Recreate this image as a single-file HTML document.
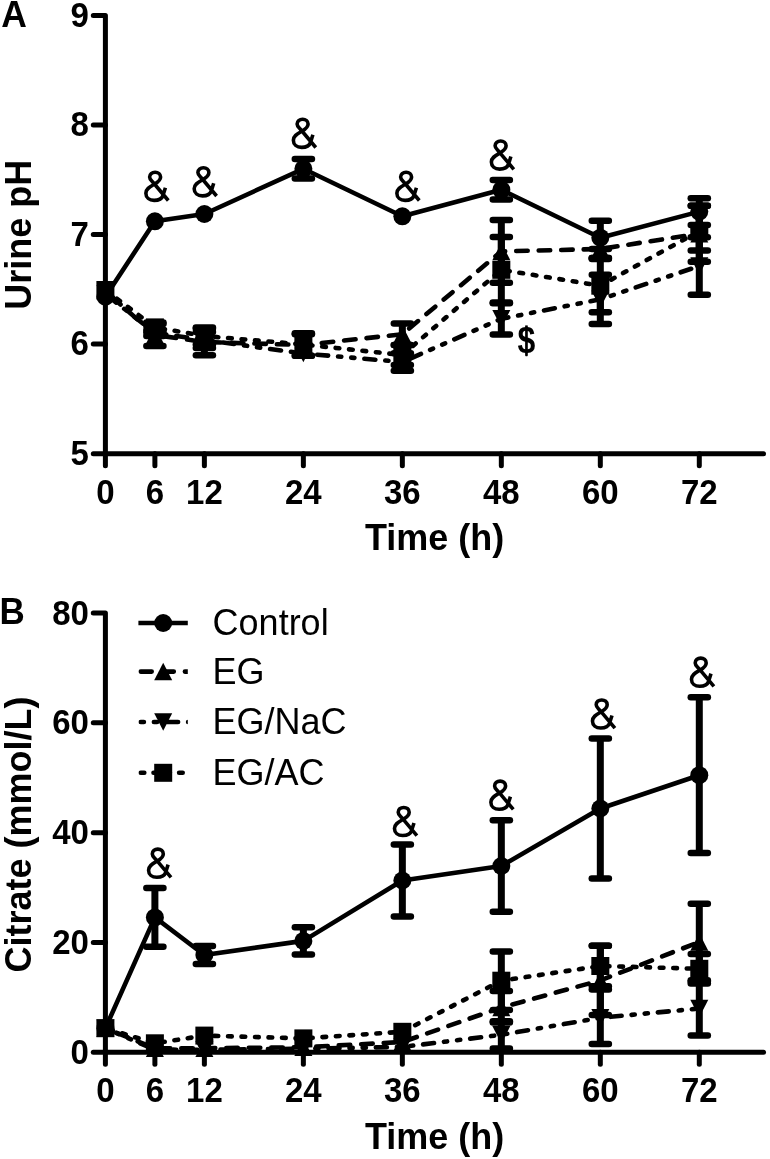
<!DOCTYPE html>
<html><head><meta charset="utf-8"><title>Figure</title>
<style>html,body{margin:0;padding:0;background:#fff;}body{width:770px;height:1159px;overflow:hidden;font-family:"Liberation Sans",sans-serif;}svg{display:block;will-change:transform;}text{font-family:"Liberation Sans",sans-serif;fill:#000;}</style>
</head><body>
<svg width="770" height="1159" viewBox="0 0 770 1159">
<rect width="770" height="1159" fill="#fff"/>
<g id="panelA">
<path d="M93.30,15.40 L105.40,15.40 L105.40,465.70" fill="none" stroke="#000" stroke-width="5.0" stroke-linecap="round" stroke-linejoin="round"/>
<path d="M93.30,453.70 L763.5,453.70" fill="none" stroke="#000" stroke-width="5.0" stroke-linecap="round"/>
<path d="M93.30,124.90 L105.40,124.90" fill="none" stroke="#000" stroke-width="5.0" stroke-linecap="round"/>
<path d="M93.30,234.40 L105.40,234.40" fill="none" stroke="#000" stroke-width="5.0" stroke-linecap="round"/>
<path d="M93.30,344.00 L105.40,344.00" fill="none" stroke="#000" stroke-width="5.0" stroke-linecap="round"/>
<path d="M154.89,453.70 L154.89,465.70" fill="none" stroke="#000" stroke-width="5.0" stroke-linecap="round"/>
<path d="M204.38,453.70 L204.38,465.70" fill="none" stroke="#000" stroke-width="5.0" stroke-linecap="round"/>
<path d="M303.37,453.70 L303.37,465.70" fill="none" stroke="#000" stroke-width="5.0" stroke-linecap="round"/>
<path d="M402.35,453.70 L402.35,465.70" fill="none" stroke="#000" stroke-width="5.0" stroke-linecap="round"/>
<path d="M501.33,453.70 L501.33,465.70" fill="none" stroke="#000" stroke-width="5.0" stroke-linecap="round"/>
<path d="M600.32,453.70 L600.32,465.70" fill="none" stroke="#000" stroke-width="5.0" stroke-linecap="round"/>
<path d="M699.30,453.70 L699.30,465.70" fill="none" stroke="#000" stroke-width="5.0" stroke-linecap="round"/>
<text transform="translate(88.90,26.70) scale(1,1.07)" font-size="33" font-weight="bold" text-anchor="end">9</text>
<text transform="translate(88.90,136.20) scale(1,1.07)" font-size="33" font-weight="bold" text-anchor="end">8</text>
<text transform="translate(88.90,245.70) scale(1,1.07)" font-size="33" font-weight="bold" text-anchor="end">7</text>
<text transform="translate(88.90,355.30) scale(1,1.07)" font-size="33" font-weight="bold" text-anchor="end">6</text>
<text transform="translate(88.90,465.00) scale(1,1.07)" font-size="33" font-weight="bold" text-anchor="end">5</text>
<text transform="translate(105.40,503.50) scale(1,1.07)" font-size="33" font-weight="bold" text-anchor="middle">0</text>
<text transform="translate(154.89,503.50) scale(1,1.07)" font-size="33" font-weight="bold" text-anchor="middle">6</text>
<text transform="translate(204.38,503.50) scale(1,1.07)" font-size="33" font-weight="bold" text-anchor="middle">12</text>
<text transform="translate(303.37,503.50) scale(1,1.07)" font-size="33" font-weight="bold" text-anchor="middle">24</text>
<text transform="translate(402.35,503.50) scale(1,1.07)" font-size="33" font-weight="bold" text-anchor="middle">36</text>
<text transform="translate(501.33,503.50) scale(1,1.07)" font-size="33" font-weight="bold" text-anchor="middle">48</text>
<text transform="translate(600.32,503.50) scale(1,1.07)" font-size="33" font-weight="bold" text-anchor="middle">60</text>
<text transform="translate(699.30,503.50) scale(1,1.07)" font-size="33" font-weight="bold" text-anchor="middle">72</text>
<text transform="translate(1.20,27.00) scale(1,1.03)" font-size="35.5" font-weight="bold" text-anchor="start">A</text>
<text transform="translate(31.00,234.70) rotate(-90) scale(1,1.04)" font-size="36" font-weight="bold" text-anchor="middle">Urine pH</text>
<text transform="translate(434.60,550.10) scale(1,1.04)" font-size="36" font-weight="bold" text-anchor="middle">Time (h)</text>
<path d="M105.40,296.70 L154.89,221.30 L204.38,214.00 L303.37,168.80 L402.35,216.30 L501.33,189.80 L600.32,237.70 L699.30,211.60" fill="none" stroke="#000" stroke-width="4.6" stroke-linejoin="round"/>
<path d="M303.37,159.00 L303.37,178.60" stroke="#000" stroke-width="7.0" fill="none"/>
<path d="M294.82,159.00 L311.92,159.00" stroke="#000" stroke-width="6.5" stroke-linecap="round" fill="none"/>
<path d="M294.82,178.60 L311.92,178.60" stroke="#000" stroke-width="6.5" stroke-linecap="round" fill="none"/>
<path d="M501.33,180.00 L501.33,199.60" stroke="#000" stroke-width="7.0" fill="none"/>
<path d="M492.78,180.00 L509.88,180.00" stroke="#000" stroke-width="6.5" stroke-linecap="round" fill="none"/>
<path d="M492.78,199.60 L509.88,199.60" stroke="#000" stroke-width="6.5" stroke-linecap="round" fill="none"/>
<path d="M600.32,220.80 L600.32,258.00" stroke="#000" stroke-width="7.0" fill="none"/>
<path d="M591.77,220.80 L608.87,220.80" stroke="#000" stroke-width="6.5" stroke-linecap="round" fill="none"/>
<path d="M591.77,258.00 L608.87,258.00" stroke="#000" stroke-width="6.5" stroke-linecap="round" fill="none"/>
<path d="M699.30,198.30 L699.30,224.90" stroke="#000" stroke-width="7.0" fill="none"/>
<path d="M690.75,198.30 L707.85,198.30" stroke="#000" stroke-width="6.5" stroke-linecap="round" fill="none"/>
<path d="M690.75,224.90 L707.85,224.90" stroke="#000" stroke-width="6.5" stroke-linecap="round" fill="none"/>
<circle cx="105.40" cy="296.70" r="9"/>
<circle cx="154.89" cy="221.30" r="9"/>
<circle cx="204.38" cy="214.00" r="9"/>
<circle cx="303.37" cy="168.80" r="9"/>
<circle cx="402.35" cy="216.30" r="9"/>
<circle cx="501.33" cy="189.80" r="9"/>
<circle cx="600.32" cy="237.70" r="9"/>
<circle cx="699.30" cy="211.60" r="9"/>
<path d="M105.40,291.00 L154.89,335.00 L204.38,342.00 L303.37,345.00 L402.35,334.20 L501.33,251.40 L600.32,249.00 L699.30,233.65" fill="none" stroke="#000" stroke-width="4.6" stroke-linecap="round" stroke-linejoin="round" stroke-dasharray="11.5 11" stroke-dashoffset="13.77"/>
<path d="M154.89,324.00 L154.89,346.00" stroke="#000" stroke-width="7.0" fill="none"/>
<path d="M146.34,324.00 L163.44,324.00" stroke="#000" stroke-width="6.5" stroke-linecap="round" fill="none"/>
<path d="M146.34,346.00 L163.44,346.00" stroke="#000" stroke-width="6.5" stroke-linecap="round" fill="none"/>
<path d="M204.38,328.80 L204.38,355.20" stroke="#000" stroke-width="7.0" fill="none"/>
<path d="M195.83,328.80 L212.93,328.80" stroke="#000" stroke-width="6.5" stroke-linecap="round" fill="none"/>
<path d="M195.83,355.20 L212.93,355.20" stroke="#000" stroke-width="6.5" stroke-linecap="round" fill="none"/>
<path d="M303.37,334.30 L303.37,355.70" stroke="#000" stroke-width="7.0" fill="none"/>
<path d="M294.82,334.30 L311.92,334.30" stroke="#000" stroke-width="6.5" stroke-linecap="round" fill="none"/>
<path d="M294.82,355.70 L311.92,355.70" stroke="#000" stroke-width="6.5" stroke-linecap="round" fill="none"/>
<path d="M402.35,323.40 L402.35,345.00" stroke="#000" stroke-width="7.0" fill="none"/>
<path d="M393.80,323.40 L410.90,323.40" stroke="#000" stroke-width="6.5" stroke-linecap="round" fill="none"/>
<path d="M393.80,345.00 L410.90,345.00" stroke="#000" stroke-width="6.5" stroke-linecap="round" fill="none"/>
<path d="M501.33,220.10 L501.33,282.70" stroke="#000" stroke-width="7.0" fill="none"/>
<path d="M492.78,220.10 L509.88,220.10" stroke="#000" stroke-width="6.5" stroke-linecap="round" fill="none"/>
<path d="M492.78,282.70 L509.88,282.70" stroke="#000" stroke-width="6.5" stroke-linecap="round" fill="none"/>
<path d="M600.32,249.00 L600.32,258.00" stroke="#000" stroke-width="7.0" fill="none"/>
<path d="M591.77,249.00 L608.87,249.00" stroke="#000" stroke-width="6.5" stroke-linecap="round" fill="none"/>
<path d="M591.77,258.00 L608.87,258.00" stroke="#000" stroke-width="6.5" stroke-linecap="round" fill="none"/>
<path d="M699.30,205.65 L699.30,261.65" stroke="#000" stroke-width="7.0" fill="none"/>
<path d="M690.75,205.65 L707.85,205.65" stroke="#000" stroke-width="6.5" stroke-linecap="round" fill="none"/>
<path d="M690.75,261.65 L707.85,261.65" stroke="#000" stroke-width="6.5" stroke-linecap="round" fill="none"/>
<path d="M105.40,282.25 L114.40,299.75 L96.40,299.75 Z"/>
<path d="M154.89,326.25 L163.89,343.75 L145.89,343.75 Z"/>
<path d="M204.38,333.25 L213.38,350.75 L195.38,350.75 Z"/>
<path d="M303.37,336.25 L312.37,353.75 L294.37,353.75 Z"/>
<path d="M402.35,325.45 L411.35,342.95 L393.35,342.95 Z"/>
<path d="M501.33,242.65 L510.33,260.15 L492.33,260.15 Z"/>
<path d="M600.32,240.25 L609.32,257.75 L591.32,257.75 Z"/>
<path d="M699.30,224.90 L708.30,242.40 L690.30,242.40 Z"/>
<path d="M105.40,294.00 L154.89,333.00 L204.38,340.00 L303.37,353.50 L402.35,362.00 L501.33,318.80 L600.32,299.35 L699.30,266.00" fill="none" stroke="#000" stroke-width="4.6" stroke-linecap="round" stroke-linejoin="round" stroke-dasharray="11 10 3.2 10 3.2 10" stroke-dashoffset="10.27"/>
<path d="M154.89,330.00 L154.89,336.00" stroke="#000" stroke-width="7.0" fill="none"/>
<path d="M146.34,330.00 L163.44,330.00" stroke="#000" stroke-width="6.5" stroke-linecap="round" fill="none"/>
<path d="M146.34,336.00 L163.44,336.00" stroke="#000" stroke-width="6.5" stroke-linecap="round" fill="none"/>
<path d="M204.38,332.00 L204.38,348.00" stroke="#000" stroke-width="7.0" fill="none"/>
<path d="M195.83,332.00 L212.93,332.00" stroke="#000" stroke-width="6.5" stroke-linecap="round" fill="none"/>
<path d="M195.83,348.00 L212.93,348.00" stroke="#000" stroke-width="6.5" stroke-linecap="round" fill="none"/>
<path d="M402.35,353.20 L402.35,370.80" stroke="#000" stroke-width="7.0" fill="none"/>
<path d="M393.80,353.20 L410.90,353.20" stroke="#000" stroke-width="6.5" stroke-linecap="round" fill="none"/>
<path d="M393.80,370.80 L410.90,370.80" stroke="#000" stroke-width="6.5" stroke-linecap="round" fill="none"/>
<path d="M501.33,303.20 L501.33,334.40" stroke="#000" stroke-width="7.0" fill="none"/>
<path d="M492.78,303.20 L509.88,303.20" stroke="#000" stroke-width="6.5" stroke-linecap="round" fill="none"/>
<path d="M492.78,334.40 L509.88,334.40" stroke="#000" stroke-width="6.5" stroke-linecap="round" fill="none"/>
<path d="M600.32,274.70 L600.32,324.00" stroke="#000" stroke-width="7.0" fill="none"/>
<path d="M591.77,274.70 L608.87,274.70" stroke="#000" stroke-width="6.5" stroke-linecap="round" fill="none"/>
<path d="M591.77,324.00 L608.87,324.00" stroke="#000" stroke-width="6.5" stroke-linecap="round" fill="none"/>
<path d="M699.30,237.30 L699.30,294.70" stroke="#000" stroke-width="7.0" fill="none"/>
<path d="M690.75,237.30 L707.85,237.30" stroke="#000" stroke-width="6.5" stroke-linecap="round" fill="none"/>
<path d="M690.75,294.70 L707.85,294.70" stroke="#000" stroke-width="6.5" stroke-linecap="round" fill="none"/>
<path d="M105.40,302.75 L114.40,285.25 L96.40,285.25 Z"/>
<path d="M154.89,341.75 L163.89,324.25 L145.89,324.25 Z"/>
<path d="M204.38,348.75 L213.38,331.25 L195.38,331.25 Z"/>
<path d="M303.37,362.25 L312.37,344.75 L294.37,344.75 Z"/>
<path d="M402.35,370.75 L411.35,353.25 L393.35,353.25 Z"/>
<path d="M501.33,327.55 L510.33,310.05 L492.33,310.05 Z"/>
<path d="M600.32,308.10 L609.32,290.60 L591.32,290.60 Z"/>
<path d="M699.30,274.75 L708.30,257.25 L690.30,257.25 Z"/>
<path d="M105.40,290.00 L154.89,327.40 L204.38,336.00 L303.37,344.50 L402.35,355.00 L501.33,269.80 L600.32,285.70 L699.30,231.00" fill="none" stroke="#000" stroke-width="4.6" stroke-linecap="round" stroke-linejoin="round" stroke-dasharray="3.7 9.8" stroke-dashoffset="12.45"/>
<path d="M154.89,322.40 L154.89,332.40" stroke="#000" stroke-width="7.0" fill="none"/>
<path d="M146.34,322.40 L163.44,322.40" stroke="#000" stroke-width="6.5" stroke-linecap="round" fill="none"/>
<path d="M146.34,332.40 L163.44,332.40" stroke="#000" stroke-width="6.5" stroke-linecap="round" fill="none"/>
<path d="M204.38,327.40 L204.38,344.60" stroke="#000" stroke-width="7.0" fill="none"/>
<path d="M195.83,327.40 L212.93,327.40" stroke="#000" stroke-width="6.5" stroke-linecap="round" fill="none"/>
<path d="M195.83,344.60 L212.93,344.60" stroke="#000" stroke-width="6.5" stroke-linecap="round" fill="none"/>
<path d="M303.37,333.30 L303.37,355.70" stroke="#000" stroke-width="7.0" fill="none"/>
<path d="M294.82,333.30 L311.92,333.30" stroke="#000" stroke-width="6.5" stroke-linecap="round" fill="none"/>
<path d="M294.82,355.70 L311.92,355.70" stroke="#000" stroke-width="6.5" stroke-linecap="round" fill="none"/>
<path d="M402.35,345.00 L402.35,365.00" stroke="#000" stroke-width="7.0" fill="none"/>
<path d="M393.80,345.00 L410.90,345.00" stroke="#000" stroke-width="6.5" stroke-linecap="round" fill="none"/>
<path d="M393.80,365.00 L410.90,365.00" stroke="#000" stroke-width="6.5" stroke-linecap="round" fill="none"/>
<path d="M501.33,237.00 L501.33,302.60" stroke="#000" stroke-width="7.0" fill="none"/>
<path d="M492.78,237.00 L509.88,237.00" stroke="#000" stroke-width="6.5" stroke-linecap="round" fill="none"/>
<path d="M492.78,302.60 L509.88,302.60" stroke="#000" stroke-width="6.5" stroke-linecap="round" fill="none"/>
<path d="M600.32,259.10 L600.32,312.30" stroke="#000" stroke-width="7.0" fill="none"/>
<path d="M591.77,259.10 L608.87,259.10" stroke="#000" stroke-width="6.5" stroke-linecap="round" fill="none"/>
<path d="M591.77,312.30 L608.87,312.30" stroke="#000" stroke-width="6.5" stroke-linecap="round" fill="none"/>
<path d="M699.30,205.70 L699.30,250.50" stroke="#000" stroke-width="7.0" fill="none"/>
<path d="M690.75,205.70 L707.85,205.70" stroke="#000" stroke-width="6.5" stroke-linecap="round" fill="none"/>
<path d="M690.75,250.50 L707.85,250.50" stroke="#000" stroke-width="6.5" stroke-linecap="round" fill="none"/>
<rect x="96.40" y="281.00" width="18" height="18"/>
<rect x="145.89" y="318.40" width="18" height="18"/>
<rect x="195.38" y="327.00" width="18" height="18"/>
<rect x="294.37" y="335.50" width="18" height="18"/>
<rect x="393.35" y="346.00" width="18" height="18"/>
<rect x="492.33" y="260.80" width="18" height="18"/>
<rect x="591.32" y="276.70" width="18" height="18"/>
<rect x="690.30" y="222.00" width="18" height="18"/>
<path transform="translate(144.00,170.50)" d="M24.3,30.0 L9.6,12.5 C7.6,10.1 5.6,9.0 5.6,6.5 C5.6,3.6 8.0,1.75 11.1,1.75 C14.2,1.75 16.6,3.6 16.6,6.5 C16.6,9.1 14.0,11.6 10.6,13.6 C6.6,16.0 1.87,18.0 1.87,22.8 C1.87,27.0 5.4,29.85 10.1,29.85 C13.9,29.85 17.85,28.4 18.9,25.1 L21.4,17.25" fill="none" stroke="#000" stroke-width="3.6" stroke-linejoin="round"/>
<path transform="translate(192.30,166.00)" d="M24.3,30.0 L9.6,12.5 C7.6,10.1 5.6,9.0 5.6,6.5 C5.6,3.6 8.0,1.75 11.1,1.75 C14.2,1.75 16.6,3.6 16.6,6.5 C16.6,9.1 14.0,11.6 10.6,13.6 C6.6,16.0 1.87,18.0 1.87,22.8 C1.87,27.0 5.4,29.85 10.1,29.85 C13.9,29.85 17.85,28.4 18.9,25.1 L21.4,17.25" fill="none" stroke="#000" stroke-width="3.6" stroke-linejoin="round"/>
<path transform="translate(291.50,117.50)" d="M24.3,30.0 L9.6,12.5 C7.6,10.1 5.6,9.0 5.6,6.5 C5.6,3.6 8.0,1.75 11.1,1.75 C14.2,1.75 16.6,3.6 16.6,6.5 C16.6,9.1 14.0,11.6 10.6,13.6 C6.6,16.0 1.87,18.0 1.87,22.8 C1.87,27.0 5.4,29.85 10.1,29.85 C13.9,29.85 17.85,28.4 18.9,25.1 L21.4,17.25" fill="none" stroke="#000" stroke-width="3.6" stroke-linejoin="round"/>
<path transform="translate(395.00,170.50)" d="M24.3,30.0 L9.6,12.5 C7.6,10.1 5.6,9.0 5.6,6.5 C5.6,3.6 8.0,1.75 11.1,1.75 C14.2,1.75 16.6,3.6 16.6,6.5 C16.6,9.1 14.0,11.6 10.6,13.6 C6.6,16.0 1.87,18.0 1.87,22.8 C1.87,27.0 5.4,29.85 10.1,29.85 C13.9,29.85 17.85,28.4 18.9,25.1 L21.4,17.25" fill="none" stroke="#000" stroke-width="3.6" stroke-linejoin="round"/>
<path transform="translate(489.50,139.30)" d="M24.3,30.0 L9.6,12.5 C7.6,10.1 5.6,9.0 5.6,6.5 C5.6,3.6 8.0,1.75 11.1,1.75 C14.2,1.75 16.6,3.6 16.6,6.5 C16.6,9.1 14.0,11.6 10.6,13.6 C6.6,16.0 1.87,18.0 1.87,22.8 C1.87,27.0 5.4,29.85 10.1,29.85 C13.9,29.85 17.85,28.4 18.9,25.1 L21.4,17.25" fill="none" stroke="#000" stroke-width="3.6" stroke-linejoin="round"/>
<text transform="translate(526.50,353.00) scale(1,1.17)" font-size="32" font-weight="bold" text-anchor="middle">$</text>
<rect x="525.2" y="325.4" width="2.5" height="30.4"/>
</g>
<g id="panelB">
<path d="M93.30,613.08 L105.40,613.08 L105.40,1064.20" fill="none" stroke="#000" stroke-width="5.0" stroke-linecap="round" stroke-linejoin="round"/>
<path d="M93.30,1052.20 L763.5,1052.20" fill="none" stroke="#000" stroke-width="5.0" stroke-linecap="round"/>
<path d="M93.30,722.86 L105.40,722.86" fill="none" stroke="#000" stroke-width="5.0" stroke-linecap="round"/>
<path d="M93.30,832.64 L105.40,832.64" fill="none" stroke="#000" stroke-width="5.0" stroke-linecap="round"/>
<path d="M93.30,942.42 L105.40,942.42" fill="none" stroke="#000" stroke-width="5.0" stroke-linecap="round"/>
<path d="M154.89,1052.20 L154.89,1064.20" fill="none" stroke="#000" stroke-width="5.0" stroke-linecap="round"/>
<path d="M204.38,1052.20 L204.38,1064.20" fill="none" stroke="#000" stroke-width="5.0" stroke-linecap="round"/>
<path d="M303.37,1052.20 L303.37,1064.20" fill="none" stroke="#000" stroke-width="5.0" stroke-linecap="round"/>
<path d="M402.35,1052.20 L402.35,1064.20" fill="none" stroke="#000" stroke-width="5.0" stroke-linecap="round"/>
<path d="M501.33,1052.20 L501.33,1064.20" fill="none" stroke="#000" stroke-width="5.0" stroke-linecap="round"/>
<path d="M600.32,1052.20 L600.32,1064.20" fill="none" stroke="#000" stroke-width="5.0" stroke-linecap="round"/>
<path d="M699.30,1052.20 L699.30,1064.20" fill="none" stroke="#000" stroke-width="5.0" stroke-linecap="round"/>
<text transform="translate(88.90,624.68) scale(1,1.07)" font-size="33" font-weight="bold" text-anchor="end">80</text>
<text transform="translate(88.90,734.46) scale(1,1.07)" font-size="33" font-weight="bold" text-anchor="end">60</text>
<text transform="translate(88.90,844.24) scale(1,1.07)" font-size="33" font-weight="bold" text-anchor="end">40</text>
<text transform="translate(88.90,954.02) scale(1,1.07)" font-size="33" font-weight="bold" text-anchor="end">20</text>
<text transform="translate(88.90,1063.80) scale(1,1.07)" font-size="33" font-weight="bold" text-anchor="end">0</text>
<text transform="translate(105.40,1102.00) scale(1,1.07)" font-size="33" font-weight="bold" text-anchor="middle">0</text>
<text transform="translate(154.89,1102.00) scale(1,1.07)" font-size="33" font-weight="bold" text-anchor="middle">6</text>
<text transform="translate(204.38,1102.00) scale(1,1.07)" font-size="33" font-weight="bold" text-anchor="middle">12</text>
<text transform="translate(303.37,1102.00) scale(1,1.07)" font-size="33" font-weight="bold" text-anchor="middle">24</text>
<text transform="translate(402.35,1102.00) scale(1,1.07)" font-size="33" font-weight="bold" text-anchor="middle">36</text>
<text transform="translate(501.33,1102.00) scale(1,1.07)" font-size="33" font-weight="bold" text-anchor="middle">48</text>
<text transform="translate(600.32,1102.00) scale(1,1.07)" font-size="33" font-weight="bold" text-anchor="middle">60</text>
<text transform="translate(699.30,1102.00) scale(1,1.07)" font-size="33" font-weight="bold" text-anchor="middle">72</text>
<text transform="translate(-0.40,624.20) scale(1,1.038)" font-size="35" font-weight="bold" text-anchor="start">B</text>
<text transform="translate(31.00,834.40) rotate(-90) scale(1,1.04)" font-size="36" font-weight="bold" text-anchor="middle">Citrate (mmol/L)</text>
<text transform="translate(434.60,1148.60) scale(1,1.04)" font-size="36" font-weight="bold" text-anchor="middle">Time (h)</text>
<path d="M105.40,1028.20 L154.89,917.40 L204.38,955.00 L303.37,940.90 L402.35,880.50 L501.33,866.00 L600.32,808.50 L699.30,775.20" fill="none" stroke="#000" stroke-width="4.6" stroke-linejoin="round"/>
<path d="M154.89,888.05 L154.89,946.75" stroke="#000" stroke-width="7.0" fill="none"/>
<path d="M146.34,888.05 L163.44,888.05" stroke="#000" stroke-width="6.5" stroke-linecap="round" fill="none"/>
<path d="M146.34,946.75 L163.44,946.75" stroke="#000" stroke-width="6.5" stroke-linecap="round" fill="none"/>
<path d="M204.38,945.90 L204.38,964.10" stroke="#000" stroke-width="7.0" fill="none"/>
<path d="M195.83,945.90 L212.93,945.90" stroke="#000" stroke-width="6.5" stroke-linecap="round" fill="none"/>
<path d="M195.83,964.10 L212.93,964.10" stroke="#000" stroke-width="6.5" stroke-linecap="round" fill="none"/>
<path d="M303.37,927.30 L303.37,954.50" stroke="#000" stroke-width="7.0" fill="none"/>
<path d="M294.82,927.30 L311.92,927.30" stroke="#000" stroke-width="6.5" stroke-linecap="round" fill="none"/>
<path d="M294.82,954.50 L311.92,954.50" stroke="#000" stroke-width="6.5" stroke-linecap="round" fill="none"/>
<path d="M402.35,844.50 L402.35,916.50" stroke="#000" stroke-width="7.0" fill="none"/>
<path d="M393.80,844.50 L410.90,844.50" stroke="#000" stroke-width="6.5" stroke-linecap="round" fill="none"/>
<path d="M393.80,916.50 L410.90,916.50" stroke="#000" stroke-width="6.5" stroke-linecap="round" fill="none"/>
<path d="M501.33,820.25 L501.33,911.75" stroke="#000" stroke-width="7.0" fill="none"/>
<path d="M492.78,820.25 L509.88,820.25" stroke="#000" stroke-width="6.5" stroke-linecap="round" fill="none"/>
<path d="M492.78,911.75 L509.88,911.75" stroke="#000" stroke-width="6.5" stroke-linecap="round" fill="none"/>
<path d="M600.32,738.60 L600.32,878.40" stroke="#000" stroke-width="7.0" fill="none"/>
<path d="M591.77,738.60 L608.87,738.60" stroke="#000" stroke-width="6.5" stroke-linecap="round" fill="none"/>
<path d="M591.77,878.40 L608.87,878.40" stroke="#000" stroke-width="6.5" stroke-linecap="round" fill="none"/>
<path d="M699.30,697.30 L699.30,853.10" stroke="#000" stroke-width="7.0" fill="none"/>
<path d="M690.75,697.30 L707.85,697.30" stroke="#000" stroke-width="6.5" stroke-linecap="round" fill="none"/>
<path d="M690.75,853.10 L707.85,853.10" stroke="#000" stroke-width="6.5" stroke-linecap="round" fill="none"/>
<circle cx="105.40" cy="1028.20" r="9"/>
<circle cx="154.89" cy="917.40" r="9"/>
<circle cx="204.38" cy="955.00" r="9"/>
<circle cx="303.37" cy="940.90" r="9"/>
<circle cx="402.35" cy="880.50" r="9"/>
<circle cx="501.33" cy="866.00" r="9"/>
<circle cx="600.32" cy="808.50" r="9"/>
<circle cx="699.30" cy="775.20" r="9"/>
<path d="M105.40,1028.30 L154.89,1048.20 L204.38,1048.20 L303.37,1047.30 L402.35,1042.00 L501.33,1007.50 L600.32,980.40 L699.30,942.00" fill="none" stroke="#000" stroke-width="4.6" stroke-linecap="round" stroke-linejoin="round" stroke-dasharray="11.5 11" stroke-dashoffset="10.26"/>
<path d="M501.33,991.00 L501.33,1022.50" stroke="#000" stroke-width="7.0" fill="none"/>
<path d="M492.78,991.00 L509.88,991.00" stroke="#000" stroke-width="6.5" stroke-linecap="round" fill="none"/>
<path d="M492.78,1022.50 L509.88,1022.50" stroke="#000" stroke-width="6.5" stroke-linecap="round" fill="none"/>
<path d="M600.32,945.80 L600.32,1015.00" stroke="#000" stroke-width="7.0" fill="none"/>
<path d="M591.77,945.80 L608.87,945.80" stroke="#000" stroke-width="6.5" stroke-linecap="round" fill="none"/>
<path d="M591.77,1015.00 L608.87,1015.00" stroke="#000" stroke-width="6.5" stroke-linecap="round" fill="none"/>
<path d="M699.30,903.70 L699.30,980.30" stroke="#000" stroke-width="7.0" fill="none"/>
<path d="M690.75,903.70 L707.85,903.70" stroke="#000" stroke-width="6.5" stroke-linecap="round" fill="none"/>
<path d="M690.75,980.30 L707.85,980.30" stroke="#000" stroke-width="6.5" stroke-linecap="round" fill="none"/>
<path d="M105.40,1019.55 L114.40,1037.05 L96.40,1037.05 Z"/>
<path d="M154.89,1039.45 L163.89,1056.95 L145.89,1056.95 Z"/>
<path d="M204.38,1039.45 L213.38,1056.95 L195.38,1056.95 Z"/>
<path d="M303.37,1038.55 L312.37,1056.05 L294.37,1056.05 Z"/>
<path d="M402.35,1033.25 L411.35,1050.75 L393.35,1050.75 Z"/>
<path d="M501.33,998.75 L510.33,1016.25 L492.33,1016.25 Z"/>
<path d="M600.32,971.65 L609.32,989.15 L591.32,989.15 Z"/>
<path d="M699.30,933.25 L708.30,950.75 L690.30,950.75 Z"/>
<path d="M105.40,1028.30 L154.89,1049.60 L204.38,1049.80 L303.37,1048.80 L402.35,1046.90 L501.33,1034.80 L600.32,1017.80 L699.30,1008.50" fill="none" stroke="#000" stroke-width="4.6" stroke-linecap="round" stroke-linejoin="round" stroke-dasharray="11 10 3.2 10 3.2 10" stroke-dashoffset="9.52"/>
<path d="M501.33,1021.20 L501.33,1048.40" stroke="#000" stroke-width="7.0" fill="none"/>
<path d="M492.78,1021.20 L509.88,1021.20" stroke="#000" stroke-width="6.5" stroke-linecap="round" fill="none"/>
<path d="M492.78,1048.40 L509.88,1048.40" stroke="#000" stroke-width="6.5" stroke-linecap="round" fill="none"/>
<path d="M600.32,989.40 L600.32,1043.90" stroke="#000" stroke-width="7.0" fill="none"/>
<path d="M591.77,989.40 L608.87,989.40" stroke="#000" stroke-width="6.5" stroke-linecap="round" fill="none"/>
<path d="M591.77,1043.90 L608.87,1043.90" stroke="#000" stroke-width="6.5" stroke-linecap="round" fill="none"/>
<path d="M699.30,981.50 L699.30,1035.50" stroke="#000" stroke-width="7.0" fill="none"/>
<path d="M690.75,981.50 L707.85,981.50" stroke="#000" stroke-width="6.5" stroke-linecap="round" fill="none"/>
<path d="M690.75,1035.50 L707.85,1035.50" stroke="#000" stroke-width="6.5" stroke-linecap="round" fill="none"/>
<path d="M105.40,1037.05 L114.40,1019.55 L96.40,1019.55 Z"/>
<path d="M154.89,1058.35 L163.89,1040.85 L145.89,1040.85 Z"/>
<path d="M204.38,1058.55 L213.38,1041.05 L195.38,1041.05 Z"/>
<path d="M303.37,1057.55 L312.37,1040.05 L294.37,1040.05 Z"/>
<path d="M402.35,1055.65 L411.35,1038.15 L393.35,1038.15 Z"/>
<path d="M501.33,1043.55 L510.33,1026.05 L492.33,1026.05 Z"/>
<path d="M600.32,1026.55 L609.32,1009.05 L591.32,1009.05 Z"/>
<path d="M699.30,1017.25 L708.30,999.75 L690.30,999.75 Z"/>
<path d="M105.40,1028.20 L154.89,1043.30 L204.38,1035.60 L303.37,1038.40 L402.35,1031.80 L501.33,980.70 L600.32,966.00 L699.30,968.80" fill="none" stroke="#000" stroke-width="4.6" stroke-linecap="round" stroke-linejoin="round" stroke-dasharray="3.7 9.8" stroke-dashoffset="9.51"/>
<path d="M501.33,951.40 L501.33,1010.00" stroke="#000" stroke-width="7.0" fill="none"/>
<path d="M492.78,951.40 L509.88,951.40" stroke="#000" stroke-width="6.5" stroke-linecap="round" fill="none"/>
<path d="M492.78,1010.00 L509.88,1010.00" stroke="#000" stroke-width="6.5" stroke-linecap="round" fill="none"/>
<path d="M600.32,945.70 L600.32,986.30" stroke="#000" stroke-width="7.0" fill="none"/>
<path d="M591.77,945.70 L608.87,945.70" stroke="#000" stroke-width="6.5" stroke-linecap="round" fill="none"/>
<path d="M591.77,986.30 L608.87,986.30" stroke="#000" stroke-width="6.5" stroke-linecap="round" fill="none"/>
<path d="M699.30,954.00 L699.30,983.60" stroke="#000" stroke-width="7.0" fill="none"/>
<path d="M690.75,954.00 L707.85,954.00" stroke="#000" stroke-width="6.5" stroke-linecap="round" fill="none"/>
<path d="M690.75,983.60 L707.85,983.60" stroke="#000" stroke-width="6.5" stroke-linecap="round" fill="none"/>
<rect x="96.40" y="1019.20" width="18" height="18"/>
<rect x="145.89" y="1034.30" width="18" height="18"/>
<rect x="195.38" y="1026.60" width="18" height="18"/>
<rect x="294.37" y="1029.40" width="18" height="18"/>
<rect x="393.35" y="1022.80" width="18" height="18"/>
<rect x="492.33" y="971.70" width="18" height="18"/>
<rect x="591.32" y="957.00" width="18" height="18"/>
<rect x="690.30" y="959.80" width="18" height="18"/>
<path transform="translate(146.70,847.40)" d="M24.3,30.0 L9.6,12.5 C7.6,10.1 5.6,9.0 5.6,6.5 C5.6,3.6 8.0,1.75 11.1,1.75 C14.2,1.75 16.6,3.6 16.6,6.5 C16.6,9.1 14.0,11.6 10.6,13.6 C6.6,16.0 1.87,18.0 1.87,22.8 C1.87,27.0 5.4,29.85 10.1,29.85 C13.9,29.85 17.85,28.4 18.9,25.1 L21.4,17.25" fill="none" stroke="#000" stroke-width="3.6" stroke-linejoin="round"/>
<path transform="translate(392.60,805.70)" d="M24.3,30.0 L9.6,12.5 C7.6,10.1 5.6,9.0 5.6,6.5 C5.6,3.6 8.0,1.75 11.1,1.75 C14.2,1.75 16.6,3.6 16.6,6.5 C16.6,9.1 14.0,11.6 10.6,13.6 C6.6,16.0 1.87,18.0 1.87,22.8 C1.87,27.0 5.4,29.85 10.1,29.85 C13.9,29.85 17.85,28.4 18.9,25.1 L21.4,17.25" fill="none" stroke="#000" stroke-width="3.6" stroke-linejoin="round"/>
<path transform="translate(489.00,779.40)" d="M24.3,30.0 L9.6,12.5 C7.6,10.1 5.6,9.0 5.6,6.5 C5.6,3.6 8.0,1.75 11.1,1.75 C14.2,1.75 16.6,3.6 16.6,6.5 C16.6,9.1 14.0,11.6 10.6,13.6 C6.6,16.0 1.87,18.0 1.87,22.8 C1.87,27.0 5.4,29.85 10.1,29.85 C13.9,29.85 17.85,28.4 18.9,25.1 L21.4,17.25" fill="none" stroke="#000" stroke-width="3.6" stroke-linejoin="round"/>
<path transform="translate(590.60,698.20)" d="M24.3,30.0 L9.6,12.5 C7.6,10.1 5.6,9.0 5.6,6.5 C5.6,3.6 8.0,1.75 11.1,1.75 C14.2,1.75 16.6,3.6 16.6,6.5 C16.6,9.1 14.0,11.6 10.6,13.6 C6.6,16.0 1.87,18.0 1.87,22.8 C1.87,27.0 5.4,29.85 10.1,29.85 C13.9,29.85 17.85,28.4 18.9,25.1 L21.4,17.25" fill="none" stroke="#000" stroke-width="3.6" stroke-linejoin="round"/>
<path transform="translate(689.60,656.40)" d="M24.3,30.0 L9.6,12.5 C7.6,10.1 5.6,9.0 5.6,6.5 C5.6,3.6 8.0,1.75 11.1,1.75 C14.2,1.75 16.6,3.6 16.6,6.5 C16.6,9.1 14.0,11.6 10.6,13.6 C6.6,16.0 1.87,18.0 1.87,22.8 C1.87,27.0 5.4,29.85 10.1,29.85 C13.9,29.85 17.85,28.4 18.9,25.1 L21.4,17.25" fill="none" stroke="#000" stroke-width="3.6" stroke-linejoin="round"/>
<clipPath id="lc0"><rect x="138.4" y="613.0" width="49.400000000000006" height="20"/></clipPath>
<path d="M138.4,623.0 L187.8,623.0" stroke="#000" stroke-width="4.6" fill="none"/>
<circle cx="163.20" cy="623.00" r="9"/>
<text transform="translate(212.60,635.10) scale(1,1.04)" font-size="36" font-weight="normal" text-anchor="start">Control</text>
<clipPath id="lc1"><rect x="138.4" y="661.6" width="49.400000000000006" height="20"/></clipPath>
<path clip-path="url(#lc1)" d="M140.70000000000002,671.6 L197.8,671.6" stroke="#000" stroke-width="4.6" stroke-linecap="round" stroke-dasharray="11 11.1" fill="none"/>
<path d="M163.20,662.85 L172.20,680.35 L154.20,680.35 Z"/>
<text transform="translate(212.60,683.70) scale(1,1.04)" font-size="36" font-weight="normal" text-anchor="start">EG</text>
<clipPath id="lc2"><rect x="138.4" y="712.0" width="49.400000000000006" height="20"/></clipPath>
<path clip-path="url(#lc2)" d="M140.70000000000002,722.0 L197.8,722.0" stroke="#000" stroke-width="4.6" stroke-linecap="round" stroke-dasharray="3.2 10 3.2 10 11 10" fill="none"/>
<path d="M163.20,730.75 L172.20,713.25 L154.20,713.25 Z"/>
<text transform="translate(212.60,734.10) scale(1,1.04)" font-size="36" font-weight="normal" text-anchor="start">EG/NaC</text>
<clipPath id="lc3"><rect x="138.4" y="762.8" width="49.400000000000006" height="20"/></clipPath>
<path clip-path="url(#lc3)" d="M140.70000000000002,772.8 L197.8,772.8" stroke="#000" stroke-width="4.6" stroke-linecap="round" stroke-dasharray="3.6 9.2" fill="none"/>
<rect x="154.20" y="763.80" width="18" height="18"/>
<text transform="translate(212.60,784.90) scale(1,1.04)" font-size="36" font-weight="normal" text-anchor="start">EG/AC</text>
</g>
</svg>
</body></html>
